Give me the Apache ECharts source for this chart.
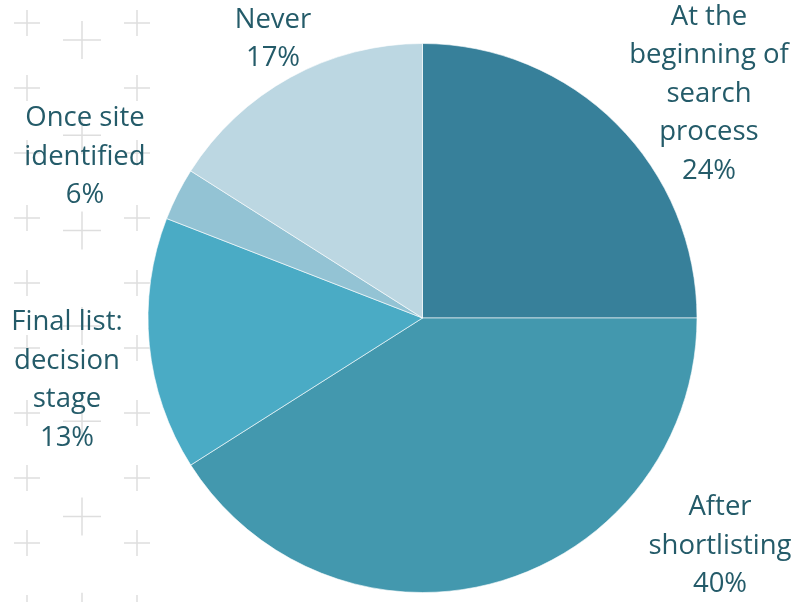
<!DOCTYPE html>
<html>
<head>
<meta charset="utf-8">
<script src="https://cdn.jsdelivr.net/npm/echarts@6/dist/echarts.min.js"></script>
<style>
  html, body { margin: 0; padding: 0; background: #ffffff; }
  #chart { width: 796px; height: 602px; }
</style>
</head>
<body>
<div id="chart"></div>
<script>
// Categories (label text, with the line breaks shown in the chart)
const categories = [
  "At the\nbeginning of\nsearch\nprocess",
  "After\nshortlisting",
  "Final list:\ndecision\nstage",
  "Once site\nidentified",
  "Never"
];
// Slice sizes as drawn (share of the circle, %)
const sliceValues = [25, 41, 14.9, 3.1, 16];
// Percentages printed in the labels
const labelPercents = [24, 40, 13, 6, 17];
const sliceColors = ["#37809a", "#4398ae", "#4aabc5", "#93c3d4", "#bcd7e2"];

const chart = echarts.init(document.getElementById('chart'), null, { renderer: 'canvas' });

// Decorative background crosses (left side)
const bg = [];
function cross(cx, cy, h) {
  bg.push({ type: 'line', z: 0, silent: true, shape: { x1: cx - h, y1: cy, x2: cx + h, y2: cy }, style: { stroke: '#dedede', lineWidth: 1.5 } });
  bg.push({ type: 'line', z: 0, silent: true, shape: { x1: cx, y1: cy - h, x2: cx, y2: cy + h }, style: { stroke: '#dedede', lineWidth: 1.5 } });
}
for (let k = 0; k < 10; k++) { cross(27, 23 + 65 * k, 13); cross(137, 23 + 65 * k, 13); }
for (let k = 0; k < 7; k++) { cross(82, 40 + 95.3 * k, 19); }

const labelPos = [
  [709, 94],
  [720, 546],
  [67, 380],
  [85, 157],
  [273, 39]
];

chart.setOption({
  backgroundColor: '#ffffff',
  animation: false,
  graphic: bg,
  series: [{
    type: 'pie',
    z: 2,
    center: [422.5, 318],
    radius: 274.5,
    startAngle: 90,
    clockwise: true,
    avoidLabelOverlap: false,
    itemStyle: { borderColor: '#ffffff', borderWidth: 0.6 },
    label: {
      show: true,
      position: 'outside',
      fontFamily: 'Open Sans',
      fontSize: 27.5,
      lineHeight: 38.5,
      color: '#245b69',
      align: 'center',
      formatter: function (p) { return p.name + '\n' + labelPercents[p.dataIndex] + '%'; }
    },
    labelLine: { show: false },
    labelLayout: function (p) {
      const pos = labelPos[p.dataIndex];
      return { x: pos[0], y: pos[1], align: 'center', verticalAlign: 'middle' };
    },
    emphasis: { disabled: true },
    data: categories.map(function (c, i) {
      return { name: c, value: sliceValues[i], itemStyle: { color: sliceColors[i] } };
    })
  }]
});
</script>
</body>
</html>
